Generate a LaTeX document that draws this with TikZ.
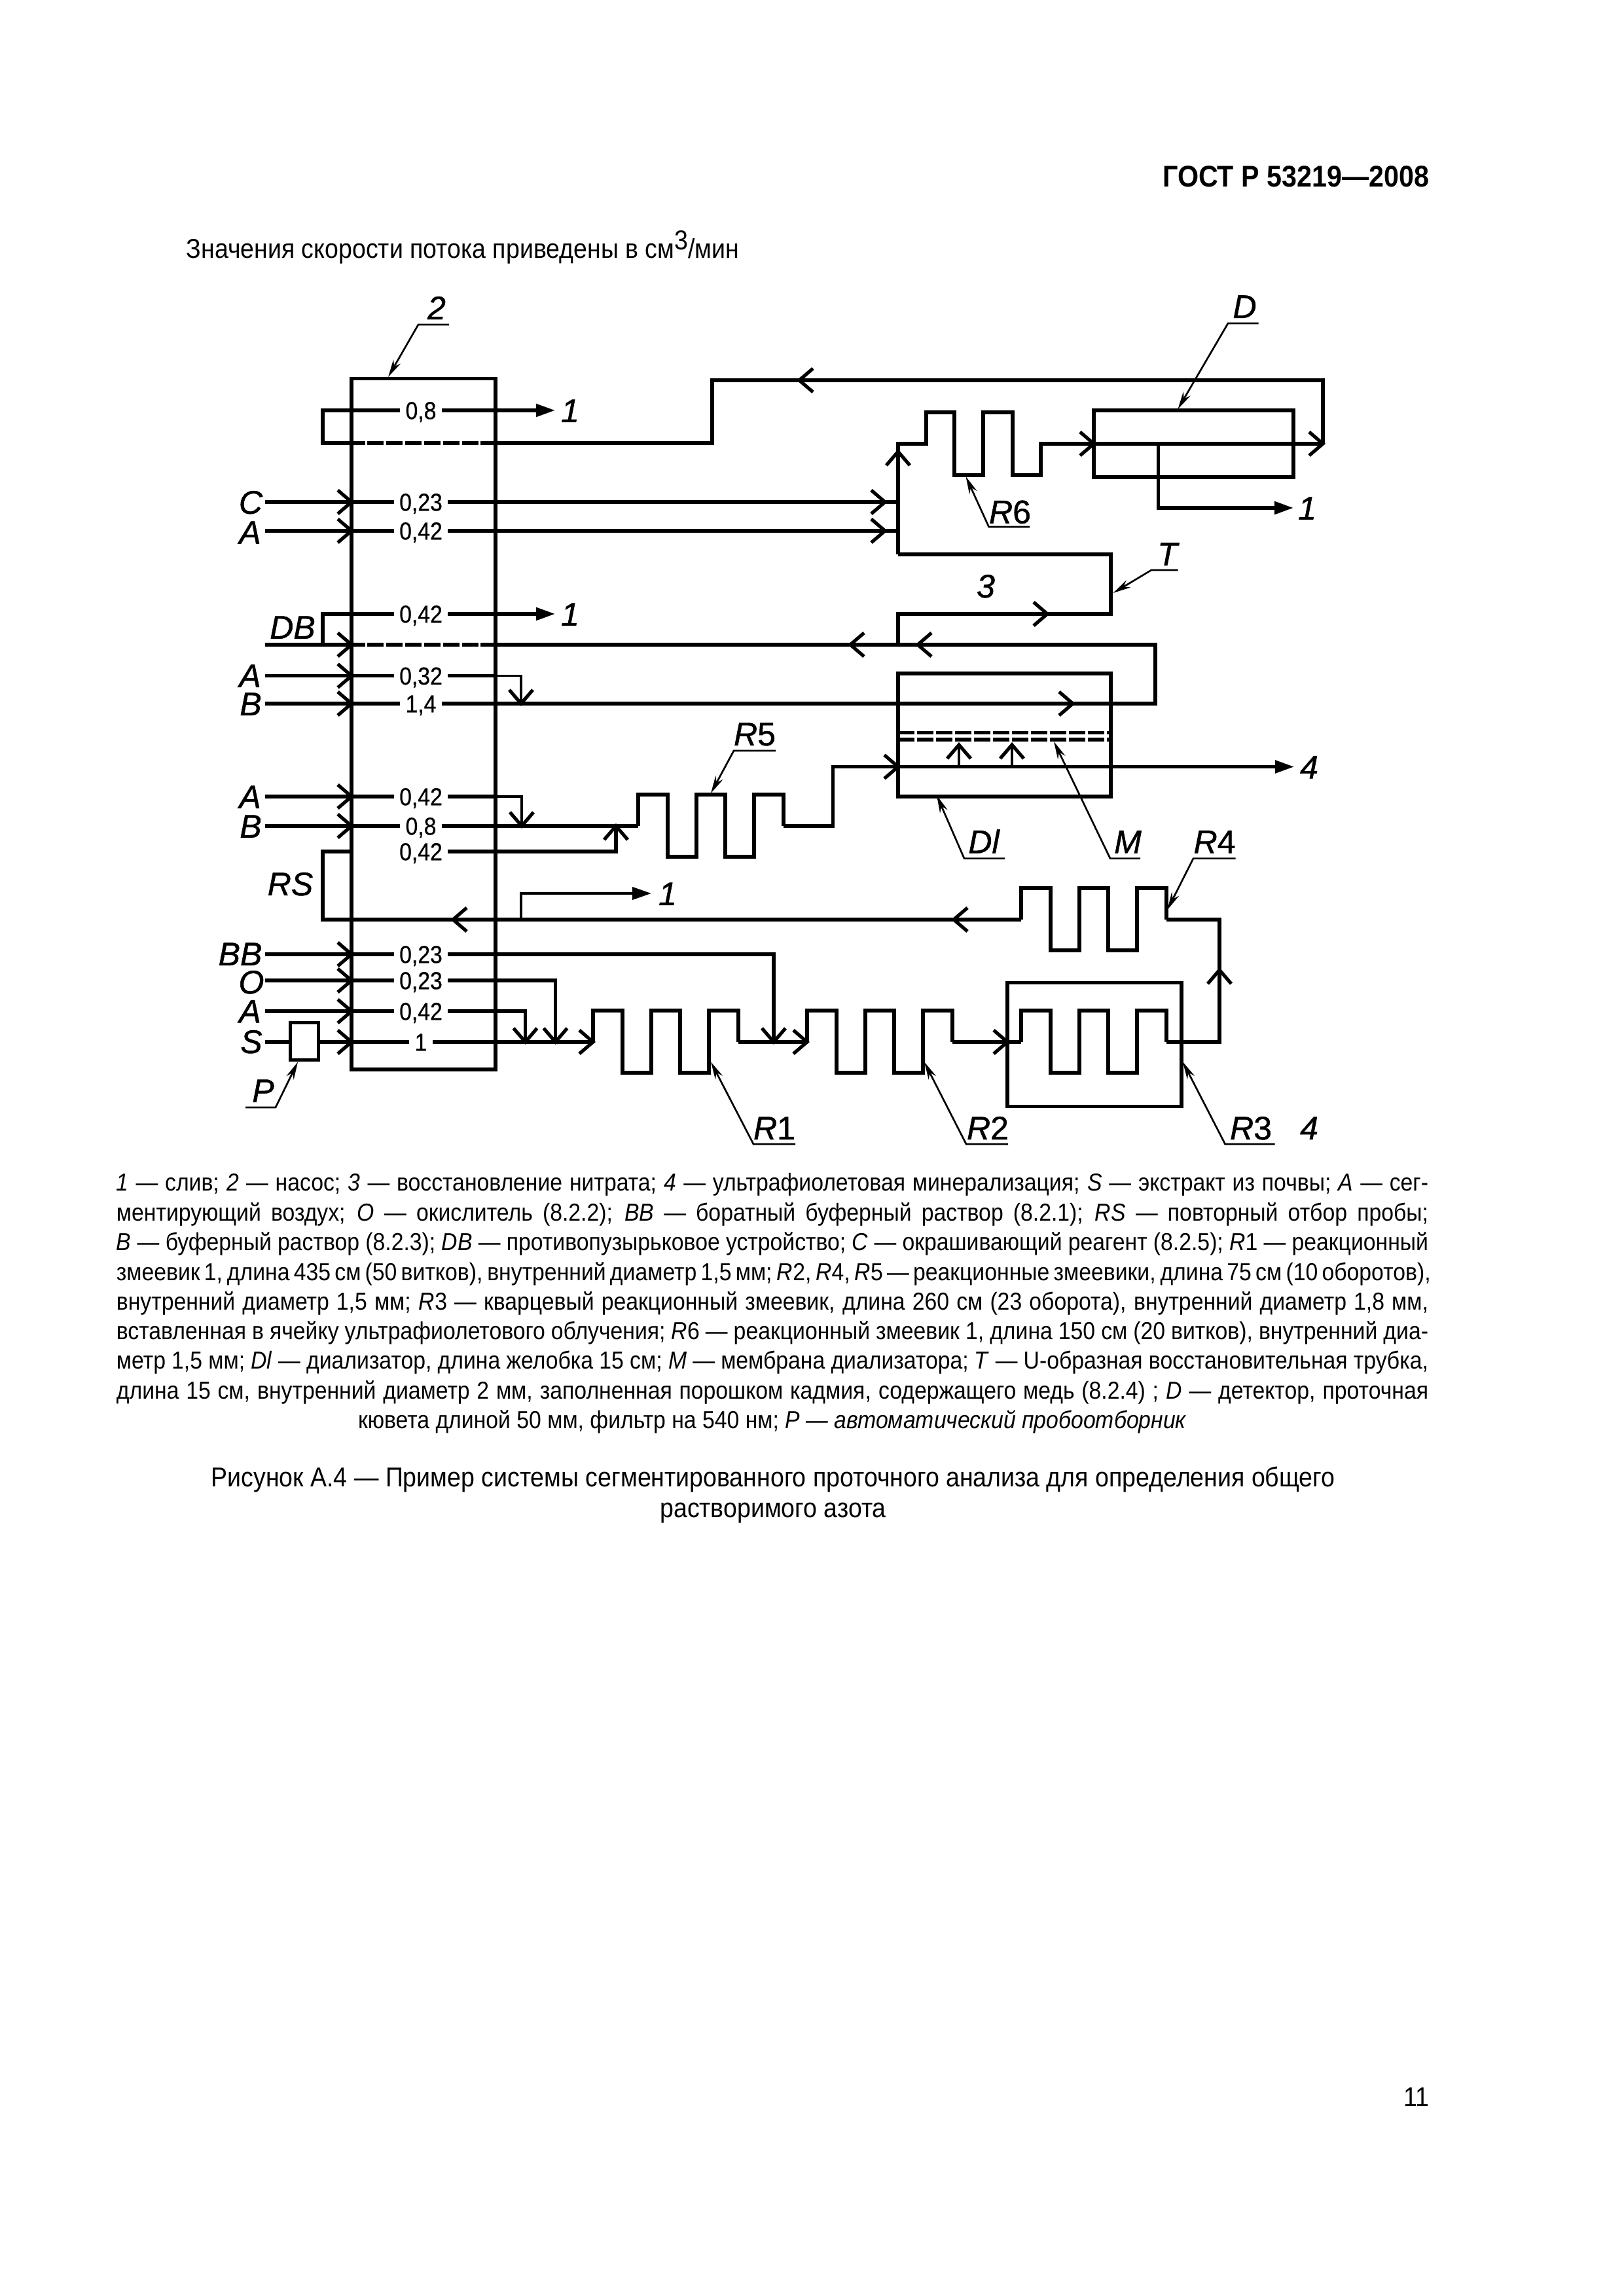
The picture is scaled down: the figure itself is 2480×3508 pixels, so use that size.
\documentclass[tikz,border=0pt]{standalone}
\usepackage{fontspec}
\setmainfont[FakeStretch=0.9]{Liberation Sans}
\newfontfamily\lblfont[FakeBold=1]{Liberation Sans}
\newfontfamily\valfont[FakeStretch=0.9,FakeBold=0.6]{Liberation Sans}
\usetikzlibrary{arrows.meta}
\newdimen\pxu \pxu=0.24pt
\newcommand{\barb}[3]{\draw[wire,shift={(#1,#2)},rotate=#3] (-21,-18) -- (0,0) -- (-21,18);}
\newcommand{\leaderline}[7]{%
  \coordinate (#1a) at (#2,#3); \coordinate (#1b) at (#4,#5); \coordinate (#1c) at (#6,#7);
  \draw[leader] (#1a) -- (#1b) -- (#1c);}
\newcommand{\Rn}[1]{\textit{R}#1}
\newcommand{\lgd}[2]{\node[lgdline] (lg#1) at (1180,#2) }
\tikzset{
  wire/.style={line width=1.25pt,line join=miter,line cap=butt},
  thinwire/.style={line width=0.9pt},
  dashrow/.style={line width=1.25pt,dash pattern=on 6pt off 0.96pt},
  filled/.style={-{Triangle[length=7pt,width=4.6pt]}},
  leader/.style={line width=0.65pt,-{Stealth[length=6.5pt,width=3pt]}},
  boxn/.style={draw,line width=1.25pt,inner sep=0pt,outer sep=0pt},
  val/.style={fill=white,font=\valfont\fontsize{9}{10}\selectfont,inner xsep=2pt,inner ysep=0.6pt,text height=6.4pt,text depth=0pt},
  lab/.style={font=\lblfont\fontsize{12}{14}\selectfont\itshape,inner sep=0pt,text height=8.6pt,text depth=0pt},
  rlab/.style={font=\lblfont\fontsize{12}{14}\selectfont,inner sep=0pt,text height=8.6pt,text depth=0pt},
  lgdline/.style={font=\fontsize{9}{10}\selectfont,inner sep=0pt,anchor=center},
  reactcoil/.pic={\draw[wire] (0,0)--(0,-48)--(45,-48)--(45,47)--(89,47)--(89,-48)--(133,-48)--(133,47)--(177,47)--(177,-48)--(222,-48)--(222,0);}
}
\begin{document}
\begin{tikzpicture}[x=0.24pt,y=-0.24pt]
\useasboundingbox (0,0) rectangle (2480,3508);
\fill[white] (0,0) rectangle (2480,3508);
% page text
\node[font=\fontsize{11}{13}\selectfont\bfseries,inner sep=0pt,anchor=east] (gost) at (2184,270) {ГОСТ Р 53219—2008};
\node[font=\fontsize{10}{12}\selectfont,inner sep=0pt,anchor=west] (intro) at (284,378) {Значения скорости потока приведены в см\raisebox{3.2pt}{3}/мин};
\node[font=\fontsize{10}{12}\selectfont,inner sep=0pt,anchor=east] (pageno) at (2184,3204) {11};
% boxes
\node[boxn,minimum width=220\pxu,minimum height=1055.5\pxu] (pump) at (647,1106.25) {};
\node[boxn,minimum width=305\pxu,minimum height=102\pxu] (det) at (1823.5,678) {};
\node[boxn,minimum width=325\pxu,minimum height=188\pxu] (dial) at (1534.5,1123) {};
\node[boxn,minimum width=266\pxu,minimum height=189\pxu] (uv) at (1672,1596) {};
% rows: sources
\foreach \n/\yy in {C/767,Aa/811,Db/985,Ab/1032.5,Ba/1075,Ac/1217,Bb/1262,BB/1458,O/1498,Ad/1545,S/1592}{\coordinate (in\n) at (405,\yy);}
% return line to top row
\coordinate (topL) at (493,627);
\draw[wire] (2021,678) -- (2021,581) -- (1088,581) -- (1088,677) -- (734,677);
\draw[dashrow] (561,677) -- (731,677);
\draw[wire,filled] (558,677) -- (493,677) -- (topL) -- (848,627);
% C, A to R6
\draw[wire] (inC) -- (1372,767);
\draw[wire] (inAa) -- (1372,811);
\draw[wire] (1372,847) -- (1372,678) -- (1415,678) -- (1415,630) -- (1458,630) -- (1458,726) -- (1502,726) -- (1502,630) -- (1547,630) -- (1547,726) -- (1590,726) -- (1590,678) -- (2021,678);
\draw[wire,filled] (1769.5,678) -- (1769.5,776) -- (1976,776);
% T tube
\draw[wire] (1372,847) -- (1697,847) -- (1697,938) -- (1372,938) -- (1372,985);
% DB row
\draw[wire] (inDb) -- (558,985);
\draw[dashrow] (561,985) -- (731,985);
\draw[wire] (734,985) -- (1765,985) -- (1765,1075) -- (inBa);
\draw[wire,filled] (493,985) -- (493,938) -- (848,938);
% 0,32
\draw[wire] (inAb) -- (757,1032.5);
\draw[thinwire] (757,1032.5) -- (796,1032.5) -- (796,1075);
% Dialyser membrane
\draw[dashrow] (1372,1119.5) -- (1697,1119.5);
\draw[dashrow] (1372,1130) -- (1697,1130);
\draw[thinwire] (1465,1171.5) -- (1465,1138);
\draw[thinwire] (1546,1171.5) -- (1546,1138);
% A, B -> R5
\draw[wire] (inAc) -- (757,1217);
\draw[thinwire] (757,1217) -- (797,1217) -- (797,1262);
\draw[wire] (inBb) -- (975,1262);
\pic at (975,1262) {reactcoil};
\draw[wire] (681,1301) -- (941,1301) -- (941,1262);
\draw[wire,filled] (1197,1262) -- (1272.5,1262) -- (1272.5,1171.5) -- (1977,1171.5);
% RS loop
\draw[wire] (1560,1405) -- (493,1405) -- (493,1301) -- (537,1301);
\draw[thinwire,filled] (796,1405) -- (796,1365) -- (995,1365);
\pic at (1560,1405) {reactcoil};
\draw[wire] (1782,1405) -- (1863,1405) -- (1863,1592) -- (1782,1592);
% lower rows
\draw[wire] (inBB) -- (1182,1458) -- (1182,1592);
\draw[wire] (inO) -- (848.5,1498) -- (848.5,1592);
\draw[wire] (inAd) -- (802.5,1545) -- (802.5,1592);
\draw[wire] (inS) -- (906,1592);
\node[boxn,fill=white,minimum width=42.5\pxu,minimum height=56.5\pxu] (samp) at (465,1591) {};
\pic at (906,1592) {reactcoil};
\draw[wire] (1128,1592) -- (1233,1592);
\pic at (1233,1592) {reactcoil};
\draw[wire] (1455,1592) -- (1560,1592);
\pic at (1560,1592) {reactcoil};
% open arrow heads
\foreach \yy in {767,811,985,1032.5,1075,1217,1262,1458,1498,1545,1592}{\barb{537}{\yy}{0}}
\barb{1352}{767}{0}\barb{1352}{811}{0}
\barb{1221}{581}{180}\barb{2021}{678}{0}\barb{1671}{678}{0}
\barb{1372}{690}{90}\barb{1600}{938}{0}
\barb{1402}{985}{180}\barb{1299}{985}{180}
\barb{1639}{1075}{0}\barb{1372}{1171.5}{0}
\barb{796}{1075}{270}\barb{797}{1262}{270}\barb{941}{1262}{90}
\barb{692}{1405}{180}\barb{1457}{1405}{180}
\barb{1465}{1138}{90}\barb{1546}{1138}{90}
\barb{802.5}{1592}{270}\barb{848.5}{1592}{270}\barb{1182}{1592}{270}
\barb{906}{1592}{0}\barb{1233}{1592}{0}\barb{1539}{1592}{0}
\barb{1863}{1482}{90}
% flow values
\node[val] (v1) at (643,627) {0,8};
\node[val] (v2) at (643,767) {0,23};
\node[val] (v3) at (643,811) {0,42};
\node[val] (v4) at (643,938) {0,42};
\node[val] (v5) at (643,1032.5) {0,32};
\node[val] (v6) at (643,1075) {1,4};
\node[val] (v7) at (643,1217) {0,42};
\node[val] (v8) at (643,1262) {0,8};
\node[val] (v9) at (643,1301) {0,42};
\node[val] (v10) at (643,1458) {0,23};
\node[val] (v11) at (643,1498) {0,23};
\node[val] (v12) at (643,1545) {0,42};
\node[val] (v13) at (643,1592) {1};
% labels
\node[lab] (n2) at (667,470) {2};
\node[lab] (nD) at (1901.5,468) {D};
\node[lab] (out1a) at (871,627) {1};
\node[lab] (out1b) at (871,938) {1};
\node[lab] (out1c) at (1997,776) {1};
\node[lab] (out1d) at (1020,1365) {1};
\node[lab] (lC) at (383,767) {C};
\node[lab] (lA1) at (382,813) {A};
\node[lab] (lDB) at (447,958) {DB};
\node[lab] (lA2) at (382,1032) {A};
\node[lab] (lB1) at (383,1075) {B};
\node[lab] (lA3) at (382,1217) {A};
\node[lab] (lB2) at (383,1262) {B};
\node[lab] (lRS) at (443.5,1350) {RS};
\node[lab] (lBB) at (367,1457) {BB};
\node[lab] (lO) at (384,1500) {O};
\node[lab] (lA4) at (382,1544.5) {A};
\node[lab] (lS) at (384,1591) {S};
\node[lab] (lP) at (402,1666) {P};
\node[lab] (lT) at (1783.5,846) {T};
\node[lab] (n3) at (1506,895) {3};
\node[lab] (lDl) at (1503,1285.6) {Dl};
\node[lab] (lM) at (1723,1285.6) {M};
\node[lab] (n4a) at (2000,1171.5) {4};
\node[lab] (n4b) at (2000,1723) {4};
\node[rlab] (lR1) at (1183,1723) {\Rn{1}};
\node[rlab] (lR2) at (1509,1723) {\Rn{2}};
\node[rlab] (lR3) at (1911,1723) {\Rn{3}};
\node[rlab] (lR4) at (1855.6,1285.6) {\Rn{4}};
\node[rlab] (lR5) at (1153,1121) {\Rn{5}};
\node[rlab] (lR6) at (1543,781.6) {\Rn{6}};
% leaders
\leaderline{L2}{686}{496}{639}{496}{593}{576}
\leaderline{LD}{1922.6}{494}{1876}{494}{1799.5}{625}
\leaderline{L6}{1573}{805}{1510.6}{805}{1475.5}{728}
\leaderline{LT}{1799.5}{871}{1759}{871}{1700.6}{906}
\leaderline{LP}{375}{1692}{421}{1692}{455}{1622.5}
\leaderline{L1}{1215}{1748}{1151}{1748}{1086}{1622.5}
\leaderline{L5}{1185}{1147}{1121}{1147}{1086}{1212}
\leaderline{LDl}{1535}{1311.6}{1473}{1311.6}{1431}{1215}
\leaderline{LM}{1742}{1311.6}{1696}{1311.6}{1610}{1133}
\leaderline{L4}{1887.5}{1311.6}{1823}{1311.6}{1783.5}{1390}
\leaderline{LR2}{1540}{1748}{1476}{1748}{1412}{1622.5}
\leaderline{L3}{1947.5}{1748}{1871.6}{1748}{1807}{1622.5}
% legend
\lgd{1}{1810}{\hbox to 481pt{\textit{1} — слив; \textit{2} — насос; \textit{3} — восстановление нитрата; \textit{4} — ультрафиолетовая минерализация; \textit{S} — экстракт из почвы; \textit{A} — сег-}};
\lgd{2}{1855}{\hbox to 481pt{ментирующий воздух; \textit{O} — окислитель (8.2.2); \textit{BB} — боратный буферный раствор (8.2.1); \textit{RS} — повторный отбор пробы;}};
\lgd{3}{1900.5}{\hbox to 481pt{\textit{B} — буферный раствор (8.2.3); \textit{DB} — противопузырьковое устройство; \textit{C} — окрашивающий реагент (8.2.5); \Rn{1} — реакционный}};
\lgd{4}{1946}{\hbox to 481pt{змеевик 1, длина 435 см (50 витков), внутренний диаметр 1,5 мм; \Rn{2}, \Rn{4}, \Rn{5} — реакционные змеевики, длина 75 см (10 оборотов),}};
\lgd{5}{1991}{\hbox to 481pt{внутренний диаметр 1,5 мм; \Rn{3} — кварцевый реакционный змеевик, длина 260 см (23 оборота), внутренний диаметр 1,8 мм,}};
\lgd{6}{2036}{\hbox to 481pt{вставленная в ячейку ультрафиолетового облучения; \Rn{6} — реакционный змеевик 1, длина 150 см (20 витков), внутренний диа-}};
\lgd{7}{2081.5}{\hbox to 481pt{метр 1,5 мм; \textit{Dl} — диализатор, длина желобка 15 см; \textit{M} — мембрана диализатора; \textit{T} — U-образная восстановительная трубка,}};
\lgd{8}{2127}{\hbox to 481pt{длина 15 см, внутренний диаметр 2 мм, заполненная порошком кадмия, содержащего медь (8.2.4) ; \textit{D} — детектор, проточная}};
\lgd{9}{2172}{кювета длиной 50 мм, фильтр на 540 нм; \textit{P — автоматический пробоотборник}};
\node[font=\fontsize{10}{12}\selectfont,inner sep=0pt] (cap1) at (1181,2261) {Рисунок А.4 — Пример системы сегментированного проточного анализа для определения общего};
\node[font=\fontsize{10}{12}\selectfont,inner sep=0pt] (cap2) at (1181,2312) {растворимого азота};
\end{tikzpicture}
\end{document}
